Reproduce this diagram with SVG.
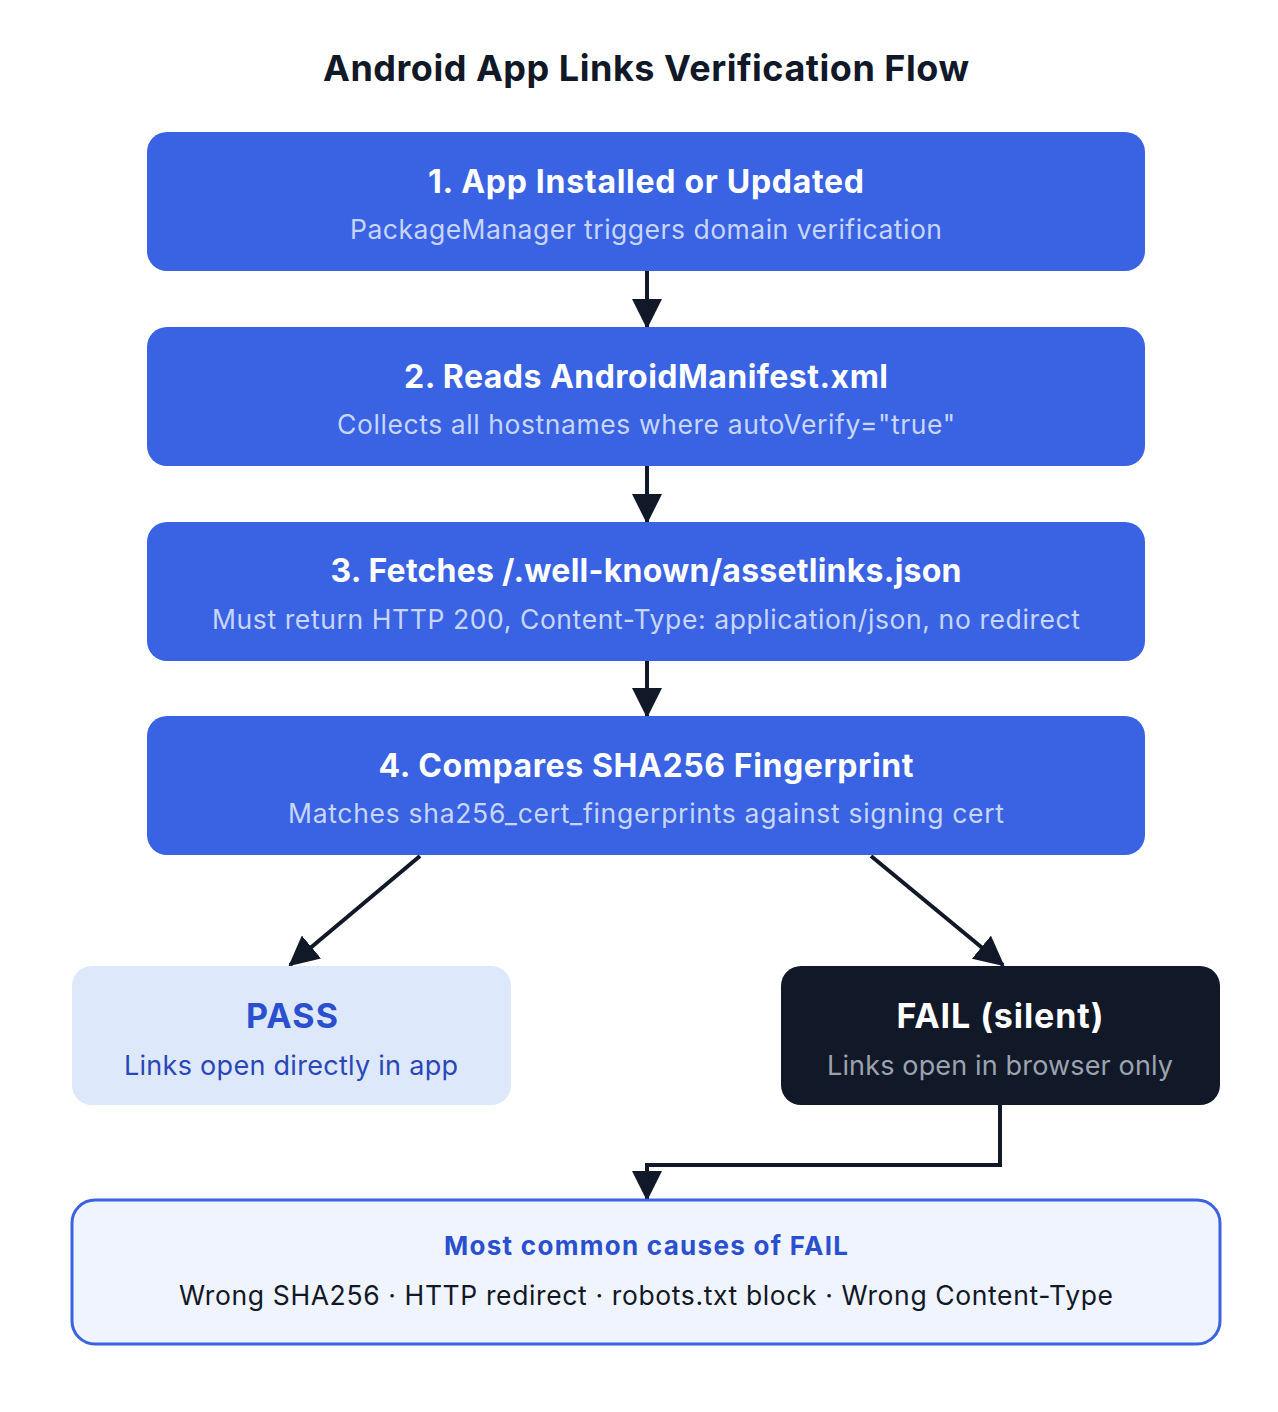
<svg xmlns="http://www.w3.org/2000/svg" width="1278" height="1412" viewBox="0 0 1278 1412">
<defs>
<marker id="arr" viewBox="0 0 30 30" markerWidth="30" markerHeight="30" refX="28" refY="15" orient="auto" markerUnits="userSpaceOnUse">
<path d="M0,0 L30,15 L0,30 Z" fill="#111827"/>
</marker>
<style>
.t{font-family:Inter,"Noto Sans","Liberation Sans",sans-serif;text-anchor:middle}
.h{font-size:32px;font-weight:700;fill:#ffffff}
.s{font-size:26.5px;fill:#c8d6fb}
.blue{fill:#3a63e4}
.con{fill:none;stroke:#111827;stroke-width:4;marker-end:url(#arr)}
</style>
</defs>
<rect width="1278" height="1412" fill="#ffffff"/>
<text class="t" x="646" y="81" font-size="36" font-weight="700" fill="#111827" textLength="646" lengthAdjust="spacing">Android App Links Verification Flow</text>
<g id="connectors">
<path class="con" d="M647,271 L647,327"/>
<path class="con" d="M647,466 L647,522"/>
<path class="con" d="M647,661 L647,716"/>
<path class="con" d="M420,856 L290,965"/>
<path class="con" d="M871,856 L1003,965"/>
<path class="con" d="M1000,1105 L1000,1165 L647,1165 L647,1199"/>
</g>
<g id="n1">
<rect class="blue" x="147" y="132" width="998" height="139" rx="20"/>
<text class="t h" x="646" y="193" textLength="436" lengthAdjust="spacing">1. App Installed or Updated</text>
<text class="t s" x="646" y="239" textLength="592" lengthAdjust="spacing">PackageManager triggers domain verification</text>
</g>
<g id="n2">
<rect class="blue" x="147" y="327" width="998" height="139" rx="20"/>
<text class="t h" x="646" y="388" textLength="484" lengthAdjust="spacing">2. Reads AndroidManifest.xml</text>
<text class="t s" x="646" y="434" textLength="618" lengthAdjust="spacing">Collects all hostnames where autoVerify="true"</text>
</g>
<g id="n3">
<rect class="blue" x="147" y="522" width="998" height="139" rx="20"/>
<text class="t h" x="646" y="582" textLength="631" lengthAdjust="spacing">3. Fetches /.well-known/assetlinks.json</text>
<text class="t s" x="646" y="629" textLength="868" lengthAdjust="spacing">Must return HTTP 200, Content-Type: application/json, no redirect</text>
</g>
<g id="n4">
<rect class="blue" x="147" y="716" width="998" height="139" rx="20"/>
<text class="t h" x="646" y="777" textLength="535" lengthAdjust="spacing">4. Compares SHA256 Fingerprint</text>
<text class="t s" x="646" y="823" textLength="716" lengthAdjust="spacing">Matches sha256_cert_fingerprints against signing cert</text>
</g>
<g id="pass">
<rect x="72" y="966" width="439" height="139" rx="20" fill="#dde8fb"/>
<text class="t" x="292" y="1028" font-size="34" font-weight="700" fill="#2a50cf" textLength="92" lengthAdjust="spacing">PASS</text>
<text class="t" x="291" y="1075" font-size="27" fill="#2a47b8" textLength="334" lengthAdjust="spacing">Links open directly in app</text>
</g>
<g id="fail">
<rect x="781" y="966" width="439" height="139" rx="20" fill="#111827"/>
<text class="t" x="1000" y="1028" font-size="34" font-weight="700" fill="#ffffff" textLength="207" lengthAdjust="spacing">FAIL (silent)</text>
<text class="t" x="1000" y="1075" font-size="27" fill="#9ca3af" textLength="346" lengthAdjust="spacing">Links open in browser only</text>
</g>
<g id="causes">
<rect x="72" y="1200" width="1148" height="144" rx="23" fill="#eff4fe" stroke="#3a63e4" stroke-width="3"/>
<text class="t" x="646" y="1255" font-size="26" font-weight="700" fill="#2a50cf" textLength="404" lengthAdjust="spacing">Most common causes of FAIL</text>
<text class="t" x="646" y="1305" font-size="26.5" fill="#111827" textLength="934" lengthAdjust="spacing">Wrong SHA256 · HTTP redirect · robots.txt block · Wrong Content-Type</text>
</g>
</svg>
